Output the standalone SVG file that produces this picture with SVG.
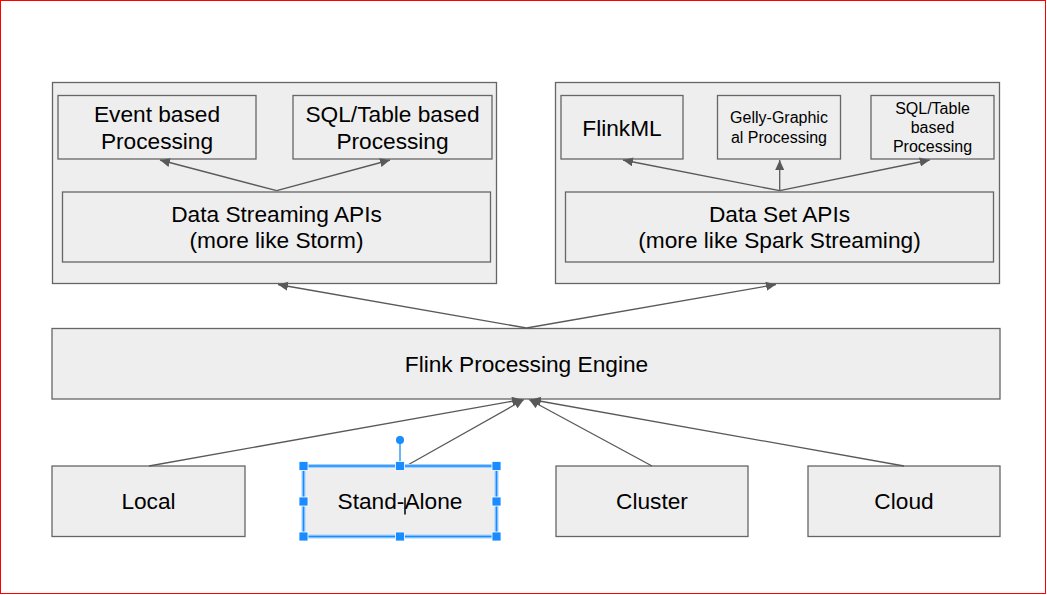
<svg xmlns="http://www.w3.org/2000/svg" width="1047" height="595" viewBox="0 0 1047 595">
<style>
.box{fill:#eeeeee;stroke:#666666;stroke-width:1.3}
.t{font-family:"Liberation Sans",Arial,sans-serif;font-size:22.7px;fill:#000;text-anchor:middle}
.s{font-family:"Liberation Sans",Arial,sans-serif;font-size:16px;fill:#000;text-anchor:middle}
.c{fill:none;stroke:#595959;stroke-width:1.3;marker-end:url(#ah)}
.h{fill:#1a8cff;stroke:#ffffff;stroke-width:0.8}
</style>
<defs>
<marker id="ah" markerUnits="userSpaceOnUse" markerWidth="12" markerHeight="10" refX="10" refY="4.5" orient="auto">
<path d="M0,0 L10,4.5 L0,9 Z" fill="#595959"/>
</marker>
</defs>
<rect x="0.5" y="0.5" width="1045" height="593" fill="#ffffff" stroke="#ff0000" stroke-width="1"/>

<g id="streaming-container"><rect class="box" x="52.5" y="82.5" width="444" height="201"/></g>
<g id="dataset-container"><rect class="box" x="555.5" y="82.5" width="444" height="201"/></g>

<g id="event-based"><rect class="box" x="58" y="95.5" width="198" height="63.5"/>
<text class="t" x="157" y="122">Event based</text><text class="t" x="157" y="148.5">Processing</text></g>
<g id="sql-table-left"><rect class="box" x="293" y="95.5" width="199" height="63.5"/>
<text class="t" x="392.5" y="122">SQL/Table based</text><text class="t" x="392.5" y="148.5">Processing</text></g>
<g id="data-streaming-apis"><rect class="box" x="62.5" y="192" width="428" height="70"/>
<text class="t" x="276.5" y="221.5">Data Streaming APIs</text><text class="t" x="276.5" y="248">(more like Storm)</text></g>

<g id="flinkml"><rect class="box" x="561" y="95.5" width="122" height="63.5"/>
<text class="t" x="622" y="136">FlinkML</text></g>
<g id="gelly"><rect class="box" x="717.5" y="95.5" width="123" height="63.5"/>
<text class="s" x="779" y="123">Gelly-Graphic</text><text class="s" x="779" y="143">al Processing</text></g>
<g id="sql-table-right"><rect class="box" x="871" y="95.5" width="123" height="63.5"/>
<text class="s" x="932.5" y="113.5">SQL/Table</text><text class="s" x="932.5" y="132.5">based</text><text class="s" x="932.5" y="151.5">Processing</text></g>
<g id="data-set-apis"><rect class="box" x="565.5" y="192" width="428" height="70"/>
<text class="t" x="779.5" y="221.5">Data Set APIs</text><text class="t" x="779.5" y="248">(more like Spark Streaming)</text></g>

<g id="flink-engine"><rect class="box" x="52" y="328.5" width="948" height="70.5"/>
<text class="t" x="526.5" y="372">Flink Processing Engine</text></g>

<g id="local"><rect class="box" x="52" y="466" width="193" height="70.5"/>
<text class="t" x="148.5" y="509">Local</text></g>
<g id="stand-alone"><rect class="box" x="303.5" y="466" width="193" height="70.5"/>
<text class="t" x="400" y="509">Stand-Alone</text></g>
<g id="cluster"><rect class="box" x="556" y="466" width="192" height="70.5"/>
<text class="t" x="652" y="509">Cluster</text></g>
<g id="cloud"><rect class="box" x="808" y="466" width="192" height="70.5"/>
<text class="t" x="904" y="509">Cloud</text></g>

<g id="connectors">
<path class="c" d="M276.7,190.7 L160,160"/>
<path class="c" d="M276.7,190.7 L390,160"/>
<path class="c" d="M779.7,190.7 L623,160"/>
<path class="c" d="M779.7,190.7 L779.7,160"/>
<path class="c" d="M779.7,190.7 L929.7,160"/>
<path class="c" d="M526.5,328 L278,284.5"/>
<path class="c" d="M526.5,328 L776,284.5"/>
<path class="c" d="M149,466 L522,399.5"/>
<path class="c" d="M406,466 L524,399.5"/>
<path class="c" d="M652,466 L529,399.5"/>
<path class="c" d="M904,466 L531,399.5"/>
</g>

<g id="selection">
<rect x="303.5" y="466" width="193" height="70.5" fill="none" stroke="#9fd0ff" stroke-width="4"/>
<rect x="303.5" y="466" width="193" height="70.5" fill="none" stroke="#1a8cff" stroke-width="1.5"/>
<line x1="400" y1="440" x2="400" y2="466" stroke="#1a8cff" stroke-width="1.3"/>
<circle cx="400" cy="440" r="4" fill="#1a8cff"/>
<rect class="h" x="299" y="461.5" width="9" height="9"/>
<rect class="h" x="395.5" y="461.5" width="9" height="9"/>
<rect class="h" x="492" y="461.5" width="9" height="9"/>
<rect class="h" x="299" y="497" width="9" height="9"/>
<rect class="h" x="492" y="497" width="9" height="9"/>
<rect class="h" x="299" y="532" width="9" height="9"/>
<rect class="h" x="395.5" y="532" width="9" height="9"/>
<rect class="h" x="492" y="532" width="9" height="9"/>
<line x1="405" y1="497.5" x2="405" y2="514.5" stroke="#000" stroke-width="1.5"/>
</g>
</svg>
